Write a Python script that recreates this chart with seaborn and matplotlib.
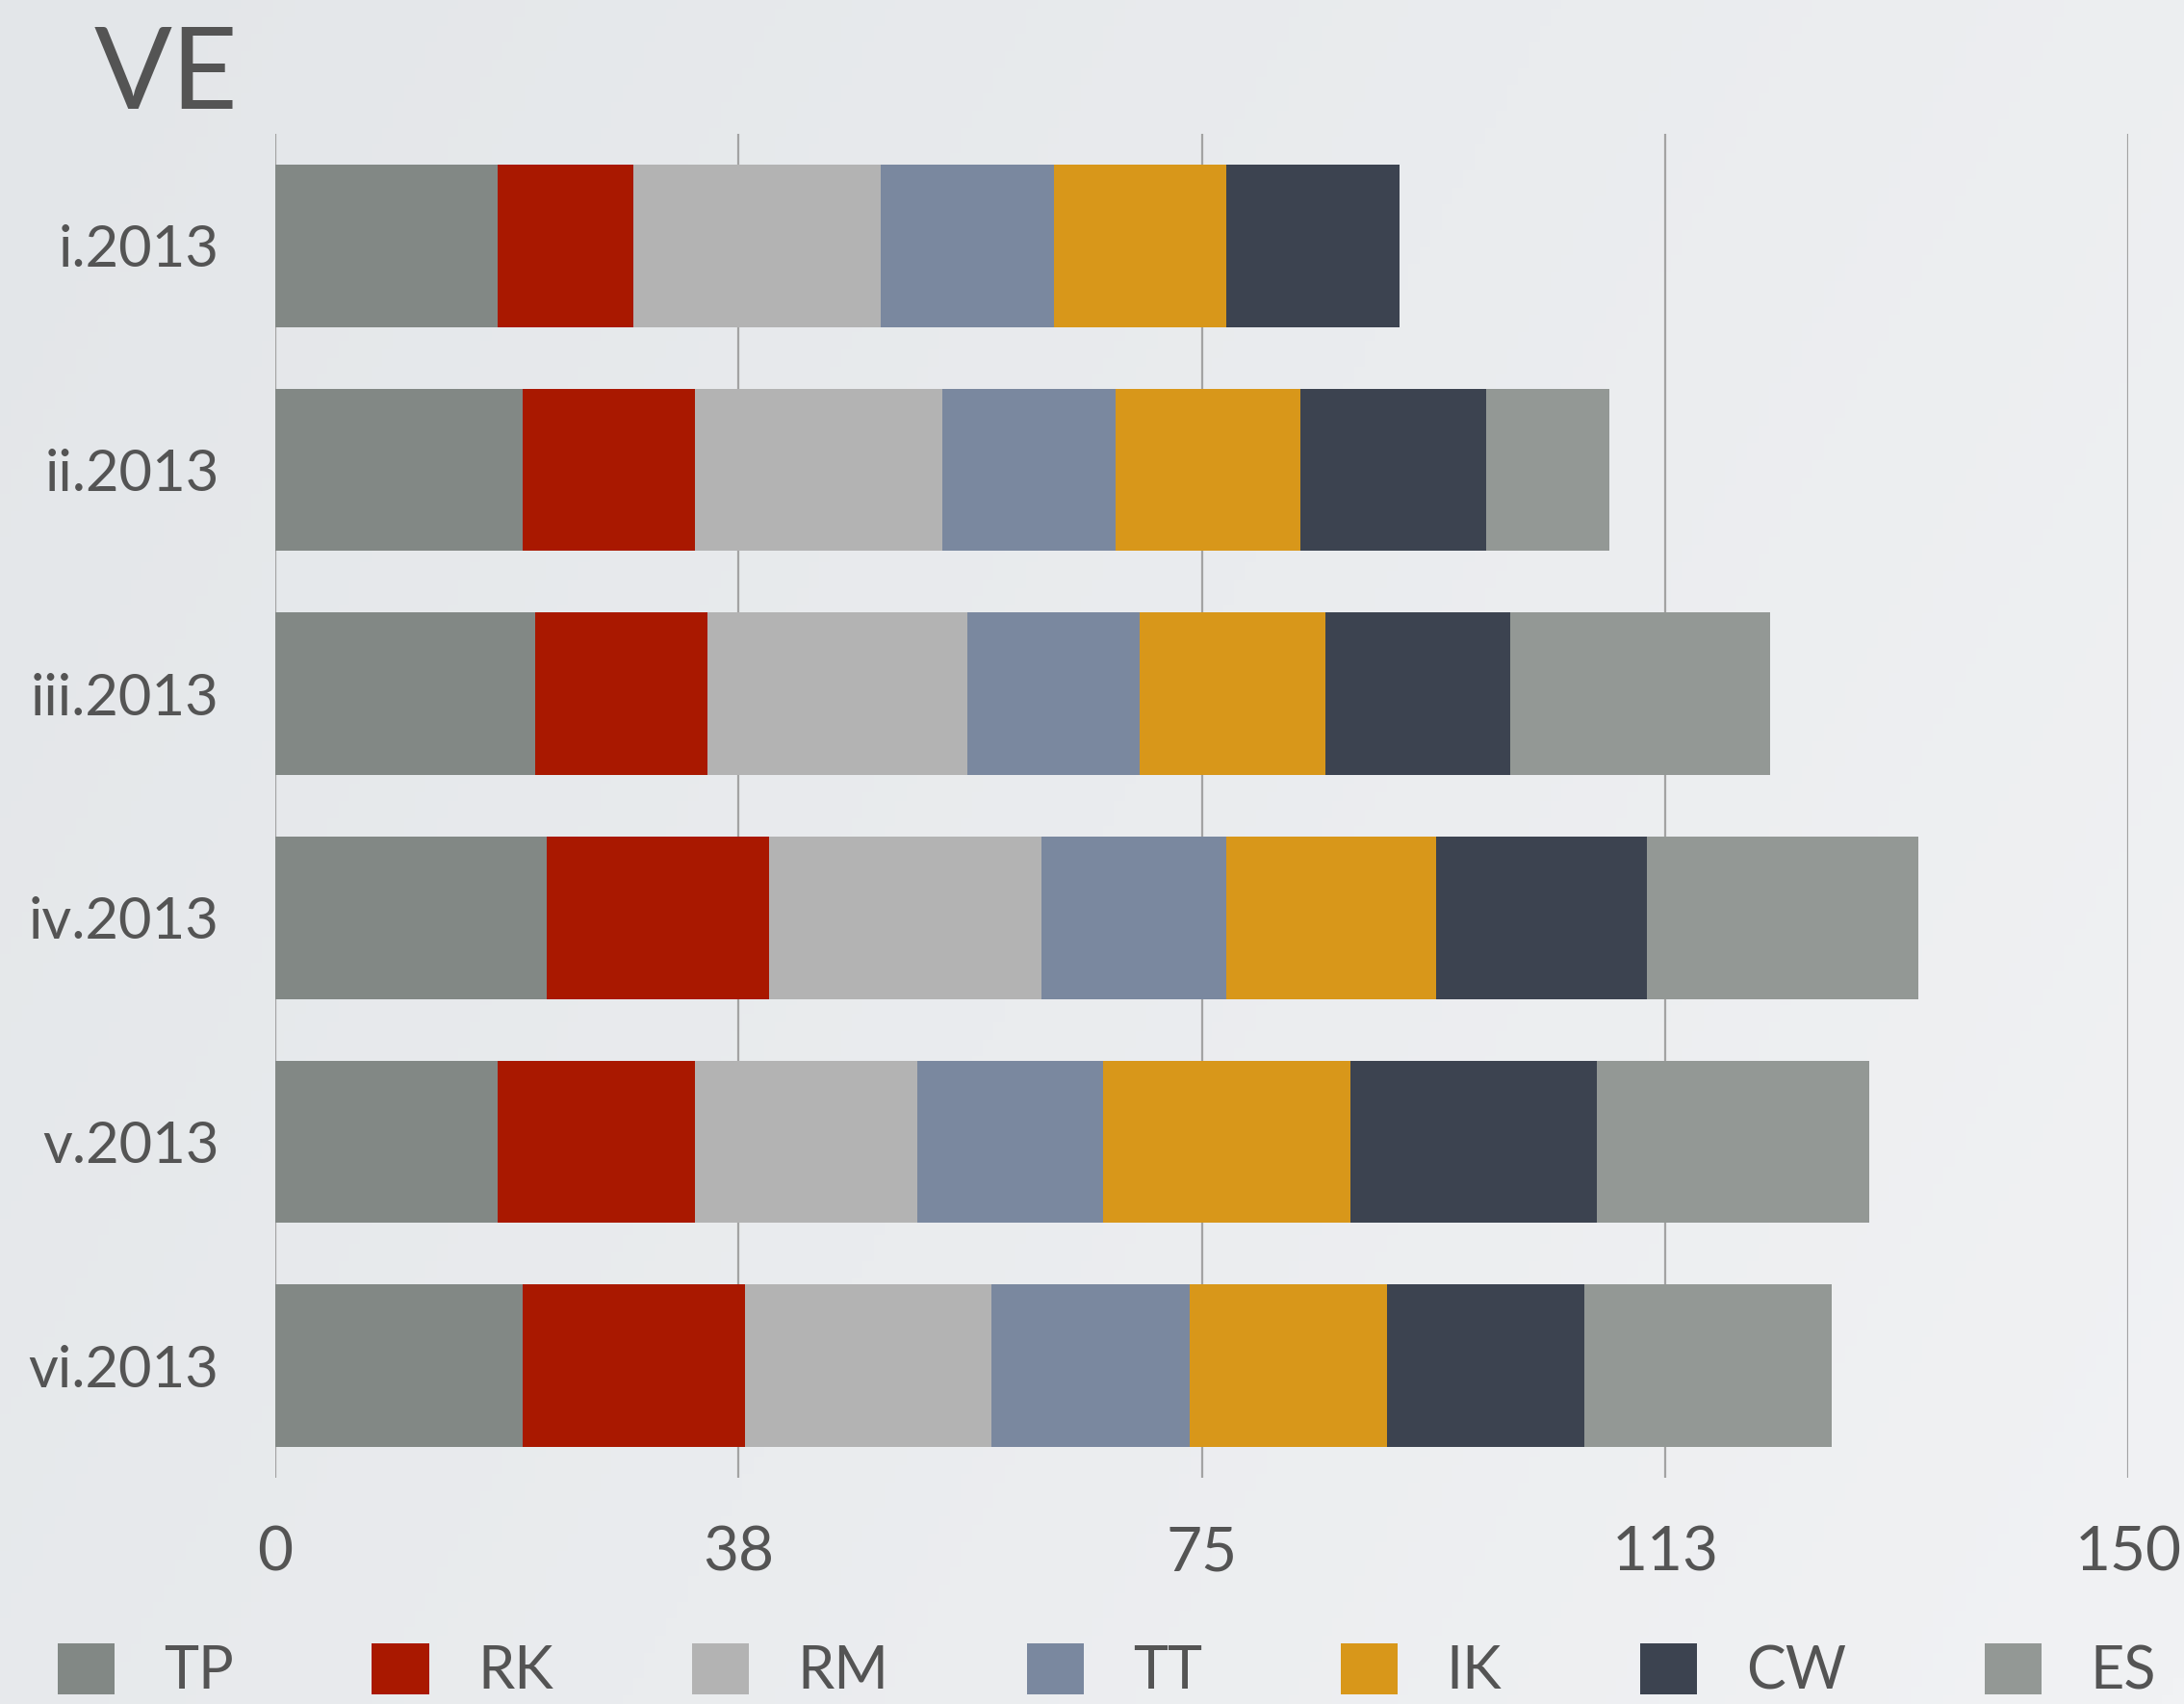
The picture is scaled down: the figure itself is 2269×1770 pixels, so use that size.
import numpy as np
import pandas as pd
import matplotlib
matplotlib.use("Agg")
import matplotlib.pyplot as plt
from matplotlib.colors import LinearSegmentedColormap
import seaborn as sns

months = ["i.2013", "ii.2013", "iii.2013", "iv.2013", "v.2013", "vi.2013"]
series = ["TP", "RK", "RM", "TT", "IK", "CW", "ES"]
TP = [18, 20, 21, 22, 18, 20]
RK = [11, 14, 14, 18, 16, 18]
RM = [20, 20, 21, 22, 18, 20]
TT = [14, 14, 14, 15, 15, 16]
IK = [14, 15, 15, 17, 20, 16]
CW = [14, 15, 15, 17, 20, 16]
ES = [0, 10, 21, 22, 22, 20]
colors = ["#828885", "#a91800", "#b3b3b3", "#7a889f", "#d8971a", "#3c4350", "#939895"]
ticks = [0, 37.5, 75, 112.5, 150]
tick_labels = ["0", "38", "75", "113", "150"]

df = pd.DataFrame({"TP": TP, "RK": RK, "RM": RM, "TT": TT,
                   "IK": IK, "CW": CW, "ES": ES}, index=months)
cum = df.cumsum(axis=1)

sns.set_style("white")
plt.rcParams["font.family"] = ["Lato", "DejaVu Sans"]
text_color = "#545454"

fig = plt.figure(figsize=(22.69, 17.70), dpi=100)

# soft background gradient
bg = fig.add_axes([0, 0, 1, 1], zorder=-10)
gx, gy = np.meshgrid(np.linspace(0, 1, 200), np.linspace(0, 1, 200))
grad = (gx * 0.7 + gy * 0.3)
cmap = LinearSegmentedColormap.from_list("bg", ["#e3e6e9", "#f1f2f4"])
bg.imshow(grad, cmap=cmap, aspect="auto", extent=[0, 1, 0, 1], origin="upper")
bg.axis("off")

ax = fig.add_axes([286 / 2269, 1 - 1535 / 1770, (2211 - 286) / 2269, 1396 / 1770])
ax.set_facecolor("none")

# stacked bars: draw cumulative totals from the last series to the first
for name, col in reversed(list(zip(series, colors))):
    sns.barplot(x=cum[name].values, y=months, orient="h", color=col,
                width=0.725, saturation=1, label=name, ax=ax, linewidth=0)

ax.set_xlim(0, 150)
ax.set_ylim(5.5, -0.5)
ax.set_xticks(ticks)
ax.set_xticklabels(tick_labels)
ax.set_xlabel("")
ax.set_ylabel("")
ax.grid(axis="x", color="#a3a3a3", linewidth=1.6)
ax.grid(axis="y", visible=False)
ax.set_axisbelow(True)
for s in ax.spines.values():
    s.set_visible(False)
ax.tick_params(axis="both", length=0, labelcolor=text_color)
ax.tick_params(axis="x", pad=36, labelsize=46)
ax.tick_params(axis="y", pad=42, labelsize=43)

handles, labels = ax.get_legend_handles_labels()
if ax.get_legend() is not None:
    ax.get_legend().remove()

fig.text(98 / 2269, 1 - 113 / 1770, "VE", fontsize=86, color=text_color,
         va="baseline", ha="left")

order = [labels.index(s) for s in series]
leg = fig.legend([handles[i] for i in order], [labels[i] for i in order],
                 loc="center", bbox_to_anchor=(60 / 2269, 1 - 1737 / 1770, (2240 - 60) / 2269, 0.001),
                 mode="expand", ncol=7, frameon=False, fontsize=44,
                 handlelength=0.97, handleheight=0.97, handletextpad=0.83,
                 borderaxespad=0, borderpad=0)
for t in leg.get_texts():
    t.set_color(text_color)

fig.savefig("out.png", dpi=100)
